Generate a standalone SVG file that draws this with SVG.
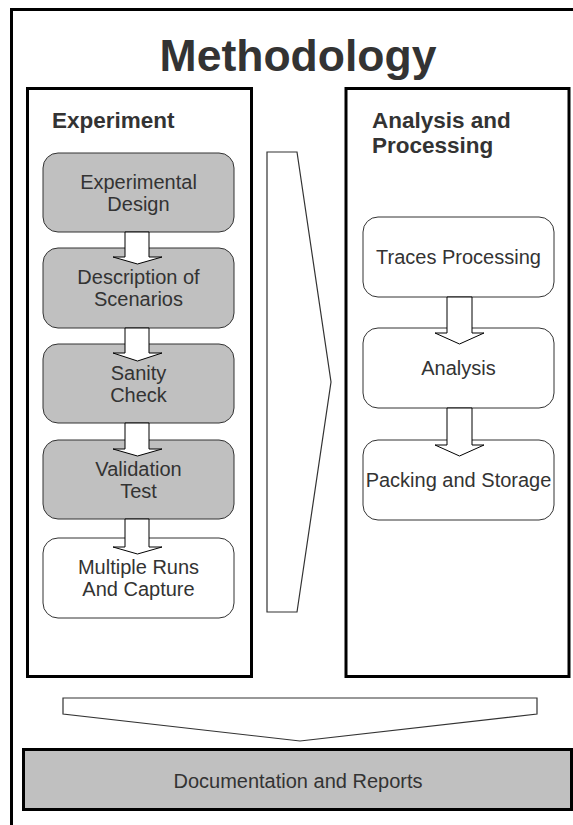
<svg xmlns="http://www.w3.org/2000/svg" width="573" height="825" viewBox="0 0 573 825">
<style>
.frame{fill:none;stroke:#000;stroke-width:3}
.panel{fill:#fff;stroke:#000;stroke-width:3}
.box{stroke:#333;stroke-width:1}
.g{fill:#c0c0c0}
.w{fill:#fff}
.t{font-family:"Liberation Sans",Arial,sans-serif;font-size:20px;fill:#333;text-anchor:middle}
.lbl{font-family:"Liberation Sans",Arial,sans-serif;font-size:22.5px;font-weight:bold;fill:#333}
.arr{fill:#fff;stroke:#000;stroke-width:1}
.big{fill:#fff;stroke:#333;stroke-width:1.2}
</style>
<rect x="0" y="0" width="573" height="825" fill="#fff"/>
<rect class="frame" x="11.5" y="9.5" width="600" height="900"/>
<text x="298" y="71" font-family="Liberation Sans, Arial, sans-serif" font-size="44.5" font-weight="bold" fill="#333" text-anchor="middle">Methodology</text>

<g id="experiment-panel">
<rect class="panel" x="27.5" y="88.5" width="224" height="588"/>
<text class="lbl" x="52" y="128">Experiment</text>
</g>
<g id="analysis-panel">
<rect class="panel" x="346" y="88.5" width="223" height="588"/>
<text class="lbl" x="372" y="128">Analysis and</text>
<text class="lbl" x="372" y="153">Processing</text>
</g>

<g id="experimental-design">
<rect class="box g" x="43" y="153" width="191" height="79" rx="15"/>
<text class="t" x="138.5" y="189">Experimental</text>
<text class="t" x="138.5" y="211">Design</text>
</g>
<g id="description-of-scenarios">
<rect class="box g" x="43" y="248" width="191" height="80" rx="15"/>
<text class="t" x="138.5" y="284">Description of</text>
<text class="t" x="138.5" y="306">Scenarios</text>
</g>
<g id="sanity-check">
<rect class="box g" x="43" y="344" width="191" height="79" rx="15"/>
<text class="t" x="138.5" y="380">Sanity</text>
<text class="t" x="138.5" y="402">Check</text>
</g>
<g id="validation-test">
<rect class="box g" x="43" y="440" width="191" height="79" rx="15"/>
<text class="t" x="138.5" y="476">Validation</text>
<text class="t" x="138.5" y="498">Test</text>
</g>
<g id="multiple-runs">
<rect class="box w" x="43" y="538" width="191" height="80" rx="15"/>
<text class="t" x="138.5" y="574">Multiple Runs</text>
<text class="t" x="138.5" y="596">And Capture</text>
</g>

<g id="traces-processing">
<rect class="box w" x="363" y="217" width="191" height="80" rx="15"/>
<text class="t" x="458.5" y="264">Traces Processing</text>
</g>
<g id="analysis">
<rect class="box w" x="363" y="328" width="191" height="80" rx="15"/>
<text class="t" x="458.5" y="375">Analysis</text>
</g>
<g id="packing-storage">
<rect class="box w" x="363" y="440" width="191" height="80" rx="15"/>
<text class="t" x="458.5" y="487">Packing and Storage</text>
</g>

<g id="documentation">
<rect x="23.5" y="749.5" width="548" height="60" fill="#c0c0c0" stroke="#000" stroke-width="3"/>
<text class="t" x="298" y="788">Documentation and Reports</text>
</g>

<g id="connectors">
<polygon class="arr" points="125,232 149,232 149,257 162,257 137.5,264 113,257 125,257"/>
<polygon class="arr" points="125,328 149,328 149,353 162,353 137.5,361 113,353 125,353"/>
<polygon class="arr" points="125,423 149,423 149,449 162,449 137.5,456 113,449 125,449"/>
<polygon class="arr" points="125,519 149,519 149,547 162,547 137.5,554 113,547 125,547"/>
<polygon class="arr" points="447,297 472,297 472,333 484,333 459.5,344 435,333 447,333"/>
<polygon class="arr" points="447,408 472,408 472,445 484,445 459.5,456 435,445 447,445"/>
<polygon class="big" points="267,152 297,152 331,382 297,612 267,612"/>
<polygon class="big" points="63,698 537,698 537,714 300,741 63,714"/>
</g>
</svg>
